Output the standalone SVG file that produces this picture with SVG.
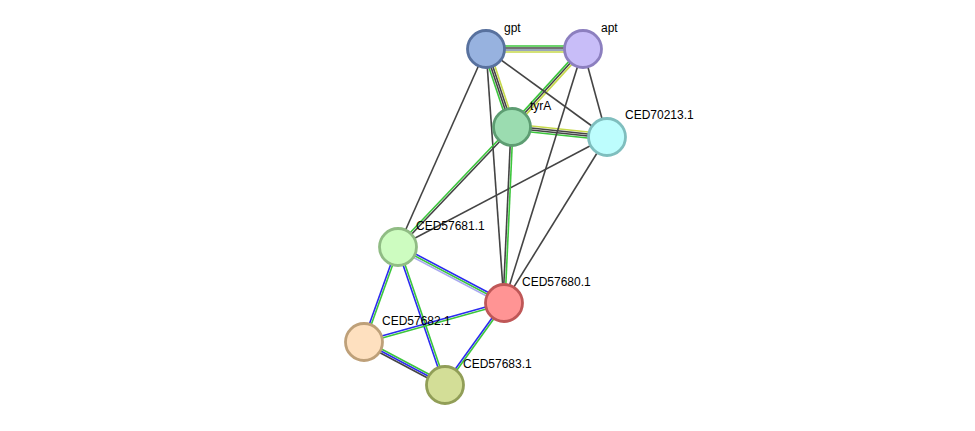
<svg xmlns="http://www.w3.org/2000/svg" width="975" height="431" viewBox="0 0 975 431">
<style>
.e{stroke-width:1.6;fill:none}
.k{stroke:#444}
.g{stroke:#3cc63c}
.y{stroke:#c6d94a}
.b{stroke:#2b2bf0}
.lb{stroke:#a9a9f0}
.gb{stroke:#7a8aa6}
.n{stroke-width:2.8}
text{font-family:"Liberation Sans",Arial,sans-serif;font-size:12px;fill:#000}
</style>
<rect width="975" height="431" fill="#fff"/>
<g id="edges">
<!-- gpt-apt -->
<line class="e g" x1="486" y1="46" x2="583" y2="46"/>
<line class="e k" x1="486" y1="48" x2="583" y2="48"/>
<line class="e gb" x1="486" y1="50" x2="583" y2="50"/>
<line class="e y" x1="486" y1="52" x2="583" y2="52"/>
<!-- gpt-tyrA -->
<line class="e g" x1="483.15" y1="49.95" x2="509.15" y2="127.95"/>
<line class="e k" x1="485.05" y1="49.32" x2="511.05" y2="127.32"/>
<line class="e k" x1="486.95" y1="48.68" x2="512.95" y2="126.68"/>
<line class="e y" x1="488.85" y1="48.05" x2="514.85" y2="126.05"/>
<!-- apt-tyrA -->
<line class="e g" x1="581.52" y1="47.65" x2="510.52" y2="125.65"/>
<line class="e k" x1="583" y1="49" x2="512" y2="127"/>
<line class="e y" x1="584.48" y1="50.35" x2="513.48" y2="128.35"/>
<!-- tyrA-CED70213.1 -->
<line class="e y" x1="512.31" y1="124.02" x2="607.31" y2="134.02"/>
<line class="e k" x1="512.1" y1="126" x2="607.1" y2="136"/>
<line class="e k" x1="511.9" y1="128" x2="606.9" y2="138"/>
<line class="e g" x1="511.69" y1="129.98" x2="606.69" y2="139.98"/>
<!-- single dark -->
<line class="e k" x1="486" y1="49" x2="607" y2="137"/>
<line class="e k" x1="583" y1="49" x2="607" y2="137"/>
<line class="e k" x1="583" y1="49" x2="504" y2="303"/>
<line class="e k" x1="486" y1="49" x2="398" y2="247"/>
<line class="e k" x1="486" y1="49" x2="504" y2="303"/>
<line class="e k" x1="607" y1="137" x2="398" y2="247"/>
<line class="e k" x1="607" y1="137" x2="504" y2="303"/>
<!-- tyrA-CED57681.1 -->
<line class="e g" x1="511.28" y1="126.31" x2="397.28" y2="246.31"/>
<line class="e k" x1="512.72" y1="127.69" x2="398.72" y2="247.69"/>
<!-- tyrA-CED57680.1 -->
<line class="e k" x1="511" y1="126.95" x2="503" y2="302.95"/>
<line class="e g" x1="513" y1="127.05" x2="505" y2="303.05"/>
<!-- CED57681.1-CED57680.1 -->
<line class="e b" x1="398.93" y1="245.23" x2="504.93" y2="301.23"/>
<line class="e g" x1="398" y1="247" x2="504" y2="303"/>
<line class="e lb" x1="397.07" y1="248.77" x2="503.07" y2="304.77"/>
<!-- CED57681.1-CED57682.1 -->
<line class="e b" x1="397.06" y1="246.66" x2="363.06" y2="341.66"/>
<line class="e g" x1="398.94" y1="247.34" x2="364.94" y2="342.34"/>
<!-- CED57681.1-CED57683.1 -->
<line class="e b" x1="397.05" y1="247.32" x2="444.05" y2="385.32"/>
<line class="e g" x1="398.95" y1="246.68" x2="445.95" y2="384.68"/>
<!-- CED57682.1-CED57680.1 -->
<line class="e b" x1="363.73" y1="341.04" x2="503.73" y2="302.04"/>
<line class="e g" x1="364.27" y1="342.96" x2="504.27" y2="303.96"/>
<!-- CED57682.1-CED57683.1 -->
<line class="e g" x1="364.94" y1="340.23" x2="445.94" y2="383.23"/>
<line class="e b" x1="364" y1="342" x2="445" y2="385"/>
<line class="e k" x1="363.06" y1="343.77" x2="444.06" y2="386.77"/>
<!-- CED57683.1-CED57680.1 -->
<line class="e b" x1="444.19" y1="384.42" x2="503.19" y2="302.42"/>
<line class="e g" x1="445.81" y1="385.58" x2="504.81" y2="303.58"/>
</g>
<g id="gpt"><circle class="n" cx="486" cy="49" r="18.5" fill="#97b2df" stroke="#58719e"/><text x="504" y="32">gpt</text></g>
<g id="apt"><circle class="n" cx="583" cy="49" r="18.5" fill="#c8bdf8" stroke="#8c7fbf"/><text x="601" y="32">apt</text></g>
<g id="tyrA"><circle class="n" cx="512" cy="127" r="18.5" fill="#9bdcb0" stroke="#5d9d72"/><text x="530" y="110">tyrA</text></g>
<g id="CED70213.1"><circle class="n" cx="607" cy="137" r="18.5" fill="#bdfdfd" stroke="#7fbebe"/><text x="625" y="119">CED70213.1</text></g>
<g id="CED57681.1"><circle class="n" cx="398" cy="247" r="18.5" fill="#cdfcc0" stroke="#90bc84"/><text x="416" y="230">CED57681.1</text></g>
<g id="CED57680.1"><circle class="n" cx="504" cy="303" r="18.5" fill="#ff9494" stroke="#bf5757"/><text x="522" y="286">CED57680.1</text></g>
<g id="CED57682.1"><circle class="n" cx="364" cy="342" r="18.5" fill="#fee0bf" stroke="#bea079"/><text x="382" y="325">CED57682.1</text></g>
<g id="CED57683.1"><circle class="n" cx="445" cy="385" r="18.5" fill="#d3de97" stroke="#919e57"/><text x="463" y="368">CED57683.1</text></g>
</svg>
